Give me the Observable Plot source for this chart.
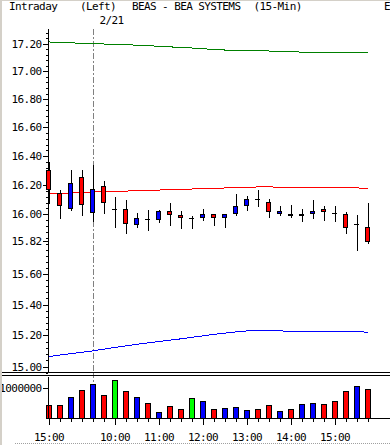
<!DOCTYPE html>
<html><head><meta charset="utf-8">
<script src="https://cdn.jsdelivr.net/npm/d3@7"></script>
<script src="https://cdn.jsdelivr.net/npm/@observablehq/plot@0.6"></script>
<style>
html,body{margin:0;padding:0;background:#fff;}
#wrap{position:relative;width:390px;height:445px;overflow:hidden;background:#fff;font-family:"DejaVu Sans Mono",monospace;font-size:11px;letter-spacing:-0.6px;color:#000;}
.hd{position:absolute;top:1px;line-height:12px;white-space:pre;}
#price,#vol{position:absolute;left:0;}
#price{top:0}
#vol{top:372px}
svg path, svg line, svg rect{shape-rendering:crispEdges;}
.sep{position:absolute;left:0;width:390px;height:1px;background:#000;}
#lborder{position:absolute;left:0;top:0;width:2px;height:445px;background:#d4d0c8;}
#tborder{position:absolute;left:0;top:0;width:390px;height:1px;background:#d4d0c8;}
#bborder{position:absolute;left:15px;top:443px;width:375px;height:0;border-top:1px dotted #a0a0a0;}
</style></head><body>
<div id="wrap">
  <div id="price"></div>
  <div id="vol"></div>
  <div class="sep" style="top:372px"></div>
  <div class="sep" style="top:375px"></div>
  <div id="lborder"></div><div id="tborder"></div><div id="bborder"></div>
  <div class="hd" style="left:9px">Intraday</div>
  <div class="hd" style="left:80px">(Left)</div>
  <div class="hd" style="left:132px">BEAS - BEA SYSTEMS</div>
  <div class="hd" style="left:253.5px">(15-Min)</div>
  <div class="hd" style="left:384px">E</div>
</div>
<script>
// ---- data ----
const times = ["15:00","15:15","15:30","15:45","9:30","9:45","10:00","10:15","10:30","10:45","11:00","11:15","11:30","11:45","12:00","12:15","12:30","12:45","13:00","13:15","13:30","13:45","14:00","14:15","14:30","14:45","15:00","15:15","15:30","15:45"];
const dayLabel = "2/21";
const open  = [16.30,16.14,16.04,16.25,16.01,16.19,16.035,16.03,15.93,15.97,15.966,16.02,15.995,15.975,15.977,16.00,15.977,16.004,16.06,16.104,16.083,16.007,16.002,15.99,16.007,16.036,16.01,16.00,15.934,15.91];
const high  = [16.36,16.165,16.30,16.30,16.34,16.23,16.12,16.10,16.01,16.03,16.03,16.08,16.02,15.99,16.036,16.00,16.00,16.14,16.125,16.165,16.104,16.056,16.063,16.036,16.097,16.056,16.056,16.016,15.995,16.08];
const low   = [16.07,15.97,16.02,15.99,15.95,16.00,15.91,15.87,15.905,15.89,15.94,15.92,15.90,15.90,15.955,15.92,15.91,15.99,16.02,16.05,15.977,15.99,15.977,15.95,15.968,15.956,15.95,15.87,15.75,15.80];
const close = [16.17,16.06,16.21,16.07,16.17,16.08,16.035,15.94,15.975,15.97,16.02,16.00,15.977,15.975,16.002,15.98,16.00,16.056,16.10,16.104,16.018,16.022,15.99,16.002,16.022,16.018,16.01,15.91,15.934,15.82];
const upperBand  = [17.216,17.211,17.209,17.207,17.204,17.201,17.198,17.195,17.193,17.189,17.184,17.180,17.176,17.172,17.166,17.162,17.157,17.155,17.153,17.152,17.150,17.147,17.145,17.142,17.140,17.139,17.139,17.139,17.139,17.139];
const middleBand = [16.142,16.144,16.148,16.151,16.155,16.157,16.159,16.162,16.164,16.166,16.169,16.171,16.173,16.176,16.178,16.181,16.183,16.185,16.188,16.190,16.190,16.189,16.185,16.185,16.185,16.185,16.185,16.185,16.184,16.178];
const lowerBand  = [15.068,15.077,15.086,15.095,15.104,15.115,15.126,15.136,15.146,15.155,15.164,15.173,15.181,15.191,15.200,15.210,15.218,15.226,15.232,15.236,15.236,15.232,15.230,15.230,15.230,15.230,15.230,15.230,15.230,15.222];
const volume = [410000,410000,667000,910000,1110000,743000,1243000,877000,667000,477000,177000,377000,277000,643000,543000,277000,310000,343000,243000,277000,410000,210000,277000,443000,477000,443000,543000,877000,1043000,943000];
const volumeTone = ["down","down","up","down","up","down","flat","down","up","down","up","down","down","flat","up","down","up","up","up","down","down","up","down","up","up","down","down","down","up","down"];
const priceTicks = [15.00,15.20,15.40,15.60,15.82,16.00,16.20,16.40,16.60,16.80,17.00,17.20];
const volumeTicks = [1000000];

// ---- derived ----
const idx = d3.range(times.length);
const daySplit = times.indexOf("9:30");
const hourIdx = idx.filter(i => times[i].endsWith(":00"));
const candles = idx.map(i => ({i, open: open[i], high: high[i], low: low[i], close: close[i],
  dir: close[i] > open[i] ? "up" : close[i] < open[i] ? "down" : "flat"}));
const bars = idx.map(i => ({i, v: volume[i], tone: volumeTone[i]}));
const minorTicks = d3.range(374, 433).map(k => +(k * 0.04).toFixed(2));
const font = {fontFamily: "DejaVu Sans Mono", fontSize: "11px", letterSpacing: "-0.6px", background: "transparent", overflow: "visible"};
const xOpts = {type: "band", domain: idx, range: [42.5, 372.5], padding: 0, align: 0.5, axis: null, label: null};
const toneColor = {domain: ["down", "up", "flat"], range: ["#ff0000", "#0000ff", "#00ff00"]};
const dash = {stroke: "#808080", strokeDasharray: "6,2,2,2"};

const price = Plot.plot({
  width: 390, height: 372, marginTop: 29, marginBottom: 0, marginLeft: 47.5, marginRight: 0,
  style: font,
  x: xOpts,
  y: {type: "log", domain: [14.966, 17.307], axis: null, label: null},
  color: toneColor,
  marks: [
    Plot.ruleX([daySplit], {x: d => d, ...dash}),
    Plot.frame({anchor: "left"}),
    Plot.axisY(minorTicks, {tickSize: 2, tickFormat: () => ""}),
    Plot.axisY(priceTicks, {tickSize: 5, tickPadding: 1.5, tickFormat: d3.format(".2f")}),
    Plot.line(idx, {x: i => i, y: i => upperBand[i], stroke: "#008000", strokeWidth: 1}),
    Plot.line(idx, {x: i => i, y: i => middleBand[i], stroke: "#ff0000", strokeWidth: 1}),
    Plot.line(idx, {x: i => i, y: i => lowerBand[i], stroke: "#0000ff", strokeWidth: 1}),
    Plot.ruleX(candles, {x: "i", y1: "low", y2: "high", stroke: "black", strokeWidth: 1}),
    Plot.barY(candles.filter(d => d.dir !== "flat"), {x: "i", y1: "open", y2: "close", fill: "dir", stroke: "black", strokeWidth: 1, insetLeft: 3.5, insetRight: 3.5}),
    Plot.tickY(candles.filter(d => d.dir === "flat"), {x: "i", y: "close", stroke: "black", strokeWidth: 1.5, insetLeft: 3, insetRight: 3}),
    Plot.text([dayLabel], {x: [daySplit], frameAnchor: "top", textAnchor: "start", lineAnchor: "middle", dx: 6.5, dy: -9.5, fill: "black"})
  ]
});
document.getElementById("price").appendChild(price);

const vol = Plot.plot({
  width: 390, height: 73, marginTop: 0, marginBottom: 27, marginLeft: 47.5, marginRight: 0,
  style: font,
  x: xOpts,
  y: {domain: [0, 1533333], axis: null, label: null},
  color: toneColor,
  marks: [
    Plot.ruleX([daySplit], {x: d => d, ...dash}),
    Plot.barY(bars, {x: "i", y: "v", fill: "tone", stroke: "black", strokeWidth: 1, insetLeft: 3, insetRight: 3}),
    Plot.frame({anchor: "left", insetTop: 5}),
    Plot.frame({anchor: "bottom"}),
    Plot.axisY(volumeTicks, {tickSize: 5, tickPadding: 1.5, tickFormat: d3.format("d")}),
    Plot.axisX(idx, {tickSize: 4, tickFormat: () => ""}),
    Plot.axisX(hourIdx, {tickSize: 7, tickPadding: 8, tickFormat: i => times[i]})
  ]
});
document.getElementById("vol").appendChild(vol);
</script>
</body></html>
